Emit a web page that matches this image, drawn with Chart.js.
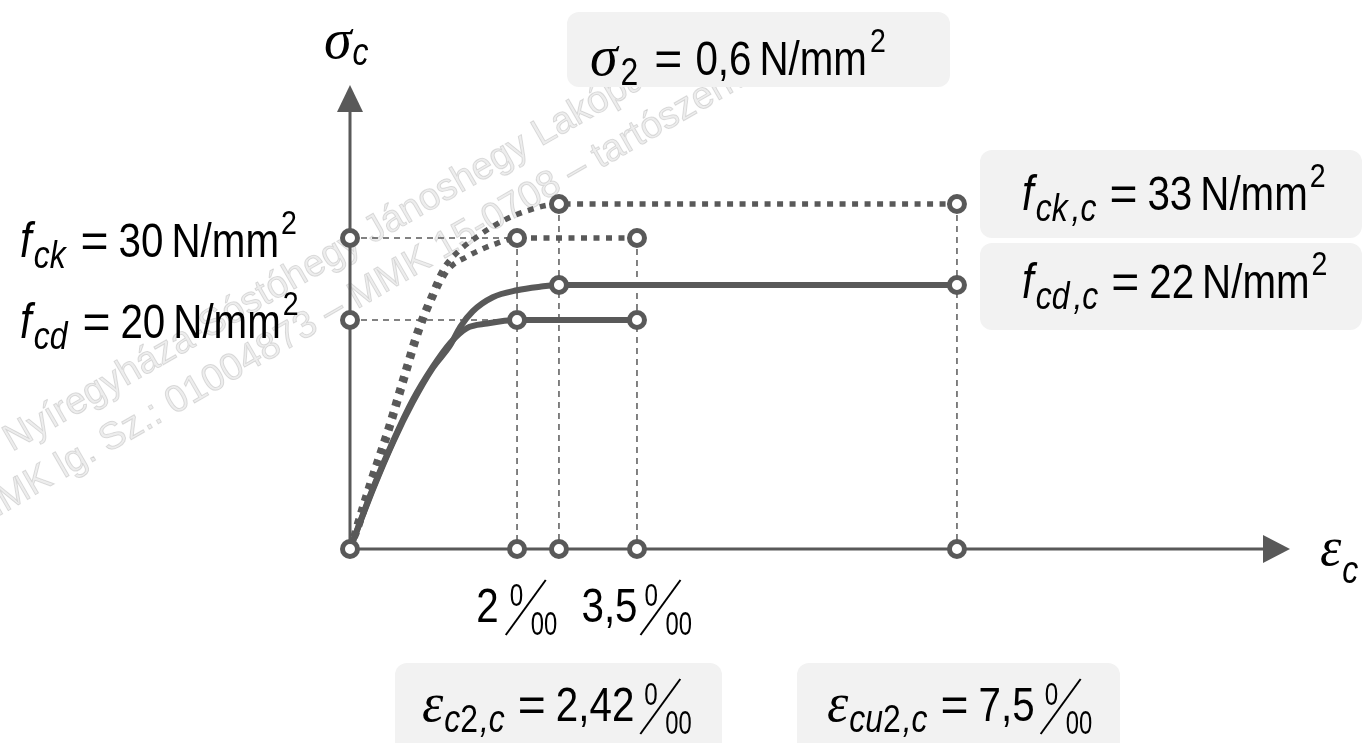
<!DOCTYPE html>
<html>
<head>
<meta charset="utf-8">
<script src="https://cdn.jsdelivr.net/npm/chart.js@4/dist/chart.umd.min.js"></script>
<style>
  html, body { margin: 0; padding: 0; background: #fff; }
  #grafico { display: block; }
</style>
</head>
<body>
<canvas id="grafico" width="1368" height="743"></canvas>
<script>
// strain in per mille, stress in N/mm2
const strainMarks = [0, 2, 2.42, 3.5, 7.5];
const stressMarks = [0, 20, 22, 30, 33];

// design curve f_cd = 20
const fcdEps = [0, 0.28, 0.52, 0.75, 0.99, 1.2, 1.4, 1.64, 2, 3.5];
const fcdSig = [0, 5.4, 9.5, 13.0, 15.9, 18.0, 19.3, 19.7, 20, 20];

// confined design curve f_cd,c = 22
const fcdcEps = [0, 0.28, 0.52, 0.75, 0.99, 1.2, 1.32, 1.47, 1.71, 2.0, 2.23, 2.42, 7.5];
const fcdcSig = [0, 5.3, 9.4, 12.8, 15.8, 17.8, 19.4, 20.5, 21.3, 21.7, 21.9, 22, 22];

// characteristic curve f_ck = 30
const fckEps = [0, 0.1, 0.28, 0.48, 0.66, 0.84, 1.0, 1.17, 1.41, 1.58, 1.76, 2, 3.5];
const fckSig = [0, 1.7, 6.0, 10.4, 14.8, 19.1, 21.3, 24.5, 26.9, 28.1, 29.1, 30, 30];

// confined characteristic curve f_ck,c = 33
const fckcEps = [0, 0.06, 0.24, 0.44, 0.62, 0.8, 0.96, 1.11, 1.32, 1.56, 1.8, 2.1, 2.42, 7.5];
const fckcSig = [0, 1.7, 6.0, 10.4, 14.8, 19.1, 21.3, 24.6, 28.0, 30.3, 31.4, 32.4, 33, 33];

// open circles
const nodeEps = [0, 2, 2.42, 3.5, 7.5, 0, 0, 2, 3.5, 2, 3.5, 2.42, 7.5, 2.42, 7.5];
const nodeSig = [0, 0, 0, 0, 0, 20, 30, 20, 20, 30, 30, 22, 22, 33, 33];

// thin dashed helper lines, start -> end
const guideEps0 = [0, 0, 2, 2.42, 3.5, 7.5];
const guideSig0 = [30, 20, 30, 33, 30, 33];
const guideEps1 = [2, 2, 2, 2.42, 3.5, 7.5];
const guideSig1 = [30, 20, 0, 0, 0, 0];

const GREY = '#595959';

// the sketch is not to scale: each axis is stretched piecewise between these values
const scaleKnots = {
    x: [[0, 0], [2, 0.1777], [2.42, 0.2223], [3.5, 0.3053], [7.5, 0.6457], [10, 1]],
    y: [[0, 0], [20, 0.4935], [22, 0.569], [30, 0.6703], [33, 0.7435], [45, 1]]
};

class SketchScale extends Chart.LinearScale {
    share(v) {
        const k = scaleKnots[this.id];
        if (v <= k[0][0]) return k[0][1];
        for (let i = 1; i < k.length; i++) {
            if (v <= k[i][0]) {
                const t = (v - k[i - 1][0]) / (k[i][0] - k[i - 1][0]);
                return k[i - 1][1] + t * (k[i][1] - k[i - 1][1]);
            }
        }
        return k[k.length - 1][1];
    }
    getPixelForValue(v) {
        const s = this.share(v);
        return this.isHorizontal() ? this.left + s * this.width : this.bottom - s * this.height;
    }
    getValueForPixel(p) {
        const k = scaleKnots[this.id];
        const s = this.isHorizontal() ? (p - this.left) / this.width : (this.bottom - p) / this.height;
        for (let i = 1; i < k.length; i++) {
            if (s <= k[i][1]) {
                const t = (s - k[i - 1][1]) / (k[i][1] - k[i - 1][1]);
                return k[i - 1][0] + t * (k[i][0] - k[i - 1][0]);
            }
        }
        return k[k.length - 1][0];
    }
}
SketchScale.id = 'sketch';
SketchScale.defaults = Chart.LinearScale.defaults;
Chart.register(SketchScale);

const pts = (xs, ys) => xs.map((x, i) => ({ x: x, y: ys[i] }));

// ---- formula text helpers ----
const SANS = '"Liberation Sans", Arial, sans-serif';
const SERIF = '"Liberation Serif", "Times New Roman", serif';
const main = (t, gap) => ({ t, gap, font: '48px ' + SANS, sx: 0.84 });
const ital = (t, gap) => ({ t, gap, font: 'italic 50px ' + SANS, sx: 0.84 });
const sub = (t, gap, dy) => ({ t, gap, dy: dy === undefined ? 11 : dy, font: 'italic 38px ' + SANS, sx: 0.84 });
const subR = (t, gap, dy) => ({ t, gap, dy: dy === undefined ? 11 : dy, font: '38px ' + SANS, sx: 0.84 });
const sup = (t, gap) => ({ t, gap, dy: -23, font: '34px ' + SANS, sx: 0.84 });
const greek = (t, gap, size) => ({ t, gap, font: 'italic ' + (size || 56) + 'px ' + SERIF, sx: 1 });
const eq = (gap) => ({ t: '=', gap, font: '48px ' + SANS, sx: 1 });
const permil = (gap) => ({ permil: true, gap });
const PERMIL_W = 52;

function drawPermil(ctx, cx, y) {
    ctx.save();
    ctx.font = '31px ' + SANS;
    ctx.translate(cx + 4, y - 16);
    ctx.scale(0.78, 1);
    ctx.fillText('0', 0, 0);
    ctx.restore();
    ctx.save();
    ctx.font = '34px ' + SANS;
    ctx.translate(cx + 25, y + 13);
    ctx.scale(0.7, 1);
    ctx.fillText('00', 0, 0);
    ctx.restore();
    ctx.save();
    ctx.strokeStyle = '#000';
    ctx.lineWidth = 2;
    ctx.beginPath();
    ctx.moveTo(cx, y + 13);
    ctx.lineTo(cx + 40, y - 42);
    ctx.stroke();
    ctx.restore();
}

function runWidth(ctx, r) {
    if (r.permil) return PERMIL_W;
    ctx.save();
    ctx.font = r.font;
    const w = ctx.measureText(r.t).width * r.sx;
    ctx.restore();
    return w;
}

function drawRich(ctx, x, y, runs, align) {
    let cx = x;
    if (align === 'center') {
        let total = 0;
        runs.forEach(r => { total += (r.gap || 0) + runWidth(ctx, r); });
        cx = x - total / 2;
    }
    ctx.fillStyle = '#000';
    ctx.textBaseline = 'alphabetic';
    runs.forEach(r => {
        cx += r.gap || 0;
        if (r.permil) {
            drawPermil(ctx, cx, y);
        } else {
            ctx.save();
            ctx.font = r.font;
            ctx.translate(cx, y + (r.dy || 0));
            ctx.scale(r.sx, 1);
            ctx.fillText(r.t, 0, 0);
            ctx.restore();
        }
        cx += runWidth(ctx, r);
    });
}

function box(ctx, x, y, w, h) {
    ctx.save();
    ctx.fillStyle = '#f2f2f2';
    ctx.beginPath();
    ctx.roundRect(x, y, w, h, 12);
    ctx.fill();
    ctx.restore();
}

function watermark(ctx, x, y, text) {
    ctx.save();
    ctx.font = '38px ' + SANS;
    ctx.translate(x, y);
    ctx.rotate(-30 * Math.PI / 180);
    ctx.fillStyle = 'rgba(0,0,0,0.07)';
    ctx.strokeStyle = 'rgba(0,0,0,0.13)';
    ctx.lineWidth = 1;
    ctx.fillText(text, 0, 0);
    ctx.strokeText(text, 0, 0);
    ctx.restore();
}

const decor = {
    id: 'decor',
    beforeDatasetsDraw(chart) {
        const ctx = chart.ctx;
        const xs = chart.scales.x, ys = chart.scales.y, area = chart.chartArea;

        watermark(ctx, 12, 452, 'Nyíregyháza-Sóstóhegy Jánoshegy Lakópark');
        watermark(ctx, -22, 528, 'MMK lg. Sz.: 01004873 – MMK 15-0708 – tartószerkezet');

        // axes with arrow heads
        const x0 = xs.getPixelForValue(0), y0 = ys.getPixelForValue(0);
        ctx.save();
        ctx.strokeStyle = GREY;
        ctx.fillStyle = GREY;
        ctx.lineWidth = 3;
        ctx.beginPath();
        ctx.moveTo(x0, y0);
        ctx.lineTo(area.right - 20, y0);
        ctx.moveTo(x0, y0);
        ctx.lineTo(x0, area.top + 20);
        ctx.stroke();
        ctx.beginPath();
        ctx.moveTo(area.right, y0);
        ctx.lineTo(area.right - 27, y0 - 14);
        ctx.lineTo(area.right - 27, y0 + 14);
        ctx.closePath();
        ctx.fill();
        ctx.beginPath();
        ctx.moveTo(x0, area.top);
        ctx.lineTo(x0 - 13, area.top + 27);
        ctx.lineTo(x0 + 13, area.top + 27);
        ctx.closePath();
        ctx.fill();
        ctx.restore();
    },
    afterDatasetsDraw(chart) {
        const ctx = chart.ctx;
        const xs = chart.scales.x, ys = chart.scales.y;
        const x0 = xs.getPixelForValue(0);

        // axis titles
        drawRich(ctx, x0 - 26, 58, [greek('σ', 0), sub('c', 1, 7)]);
        drawRich(ctx, 1320, 565, [greek('ε', 0, 54), sub('c', 1, 18)]);

        // strengths on the left
        drawRich(ctx, 20, ys.getPixelForValue(stressMarks[3]) + 19,
            [ital('f', 0), sub('ck', 2), eq(15), main('30', 10), main('N/mm', 8), sup('2', 2)]);
        drawRich(ctx, 20, ys.getPixelForValue(stressMarks[1]) + 18,
            [ital('f', 0), sub('cd', 2), eq(15), main('20', 10), main('N/mm', 8), sup('2', 2)]);

        // strain ticks
        drawRich(ctx, xs.getPixelForValue(strainMarks[1]), 622, [main('2', 0), permil(7)], 'center');
        drawRich(ctx, xs.getPixelForValue(strainMarks[3]), 622, [main('3,5', 0), permil(3)], 'center');

        // grey boxes
        box(ctx, 567, 12, 383, 75);
        drawRich(ctx, 590, 75, [greek('σ', 0), subR('2', 3, 10), eq(16), main('0,6', 13), main('N/mm', 8), sup('2', 3)]);

        box(ctx, 980, 150, 382, 88);
        drawRich(ctx, 1022, 210, [ital('f', 0), sub('ck', 2), sub(',c', 4), eq(13), main('33', 10), main('N/mm', 8), sup('2', 2)]);

        box(ctx, 980, 243, 382, 87);
        drawRich(ctx, 1022, 298, [ital('f', 0), sub('cd', 2), sub(',c', 4), eq(13), main('22', 10), main('N/mm', 8), sup('2', 2)]);

        box(ctx, 395, 663, 327, 100);
        drawRich(ctx, 422, 721, [greek('ε', 0, 54), sub('c', 1), subR('2', 0), sub(',c', 2), eq(13), main('2,42', 10), permil(6)]);

        box(ctx, 797, 663, 323, 100);
        drawRich(ctx, 827, 721, [greek('ε', 0, 54), sub('cu', 1), subR('2', 0), sub(',c', 2), eq(13), main('7,5', 10), permil(6)]);
    }
};

const curve = (xs, ys, dashed) => ({
    data: pts(xs, ys),
    borderColor: GREY,
    borderWidth: dashed ? 5.5 : 6,
    borderDash: dashed ? [6, 6.5] : [],
    borderCapStyle: 'butt',
    pointRadius: 0,
    cubicInterpolationMode: 'monotone',
    clip: false,
    order: 2
});

const guides = guideEps0.map((e, i) => ({
    data: pts([e, guideEps1[i]], [guideSig0[i], guideSig1[i]]),
    borderColor: GREY,
    borderWidth: 1.5,
    borderDash: [6, 5],
    pointRadius: 0,
    tension: 0,
    clip: false,
    order: 3
}));

const ctx = document.getElementById('grafico');
new Chart(ctx, {
    type: 'line',
    data: {
        datasets: [
            {
                data: pts(nodeEps, nodeSig),
                showLine: false,
                pointRadius: 7.5,
                pointBorderWidth: 5,
                pointBackgroundColor: '#fff',
                pointBorderColor: GREY,
                clip: false,
                order: 0
            },
            curve(fcdEps, fcdSig, false),
            curve(fcdcEps, fcdcSig, false),
            curve(fckEps, fckSig, true),
            curve(fckcEps, fckcSig, true),
            ...guides
        ]
    },
    options: {
        responsive: false,
        animation: false,
        devicePixelRatio: 1,
        layout: { padding: { left: 350, right: 78, top: 85, bottom: 194 } },
        scales: {
            x: { type: 'sketch', min: 0, max: 10, display: false },
            y: { type: 'sketch', min: 0, max: 45, display: false }
        },
        plugins: {
            legend: { display: false },
            tooltip: { enabled: false }
        }
    },
    plugins: [decor]
});
</script>
</body>
</html>
